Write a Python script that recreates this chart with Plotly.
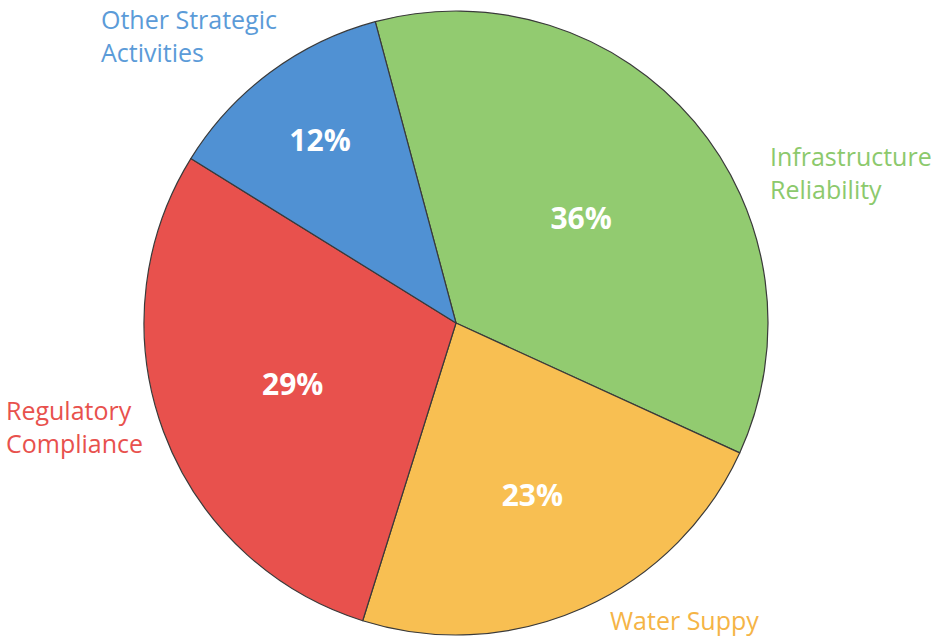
import plotly.graph_objects as go

categories = ["Infrastructure Reliability", "Water Suppy", "Regulatory Compliance", "Other Strategic Activities"]
values = [36, 23, 29, 12]
slice_colors = ["#92cb70", "#f8bf52", "#e8514d", "#5091d3"]
label_texts = ["Infrastructure<br>Reliability", "Water Suppy", "Regulatory<br>Compliance", "Other Strategic<br>Activities"]
label_colors = ["#8cc96c", "#f5b446", "#e8514d", "#5b9bd8"]

fig = go.Figure(go.Pie(
    labels=categories,
    values=values,
    sort=False,
    direction="clockwise",
    rotation=345,
    marker=dict(colors=slice_colors, line=dict(color="#3a3a3a", width=1.2)),
    textinfo="percent",
    texttemplate="%{percent:.0%}",
    textposition="inside",
    insidetextorientation="horizontal",
    textfont=dict(family="Open Sans", size=30, color="white", weight="bold"),
    showlegend=False,
    hoverinfo="label+percent",
    domain=dict(x=[(456 - 312) / 939, (456 + 312) / 939], y=[1 - 635 / 637, 1 - 11 / 637]),
))

# outside labels positioned in paper coords
pos = [(768, 172, "middle"), (608, 620, "middle"), (4, 427, "middle"), (99, 0, "top")]
for (x, y, ya), t, c in zip(pos, label_texts, label_colors):
    fig.add_annotation(x=x / 939, y=1 - y / 637, xref="paper", yref="paper",
                       text=t, showarrow=False, xanchor="left", yanchor=ya,
                       align="left", font=dict(family="Open Sans", size=25, color=c))

fig.update_layout(width=939, height=637, margin=dict(l=0, r=0, t=0, b=0),
                  paper_bgcolor="white", plot_bgcolor="white")
fig.write_html("out.html")
